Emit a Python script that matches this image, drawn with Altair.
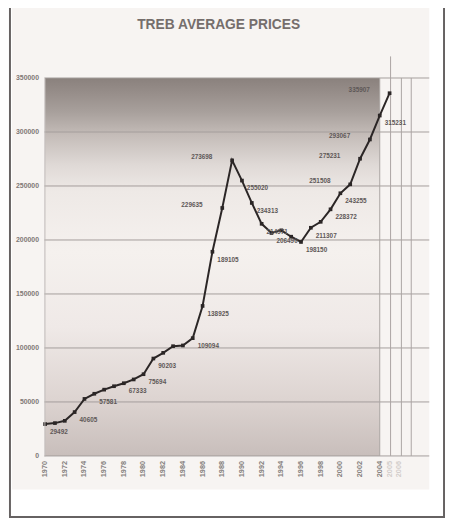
import altair as alt
import pandas as pd

# ---- data ----
years = list(range(1970, 2006))
prices = [29492, 30426, 32513, 40605, 52806, 57581, 61389, 64559, 67333, 70830,
          75694, 90203, 95496, 101626, 102318, 109094, 138925, 189105, 229635, 273698,
          255020, 234313, 214971, 206490, 208921, 203028, 198150, 211307, 216815, 228372,
          243255, 251508, 275231, 293067, 315231, 335907]

right_label_years = [1970, 1973, 1975, 1978, 1980, 1981, 1985, 1986, 1987, 1990,
                     1991, 1992, 1993, 1996, 1997, 1999, 2000, 2004]
left_label_years = [1988, 1989, 2001, 2002, 2003, 2005]

y_ticks = [0, 50000, 100000, 150000, 200000, 250000, 300000, 350000]
x_label_years = list(range(1970, 2005, 2))
x_faint_years = [2005, 2006]
extra_grid_years = [2004, 2005.1, 2006.2, 2007.2]
extra_grid_tops = [350000, 370000, 350000, 350000]

title_text = "TREB AVERAGE PRICES"

# ---- tables ----
df = pd.DataFrame({"year": years, "price": prices})
df["label"] = df["price"].astype(str)
df_r = df[df["year"].isin(right_label_years)]
df_l = df[df["year"].isin(left_label_years)]
grid_df = pd.DataFrame({"v": y_ticks})
vgrid_df = pd.DataFrame({"yr": extra_grid_years, "lo": [0] * 4, "hi": extra_grid_tops})
shade_df = pd.DataFrame({"x0": [1970], "x1": [2004], "y0": [0], "y1": [350000]})
xl_df = pd.DataFrame({"yr": x_label_years, "t": [str(v) for v in x_label_years]})
xf_df = pd.DataFrame({"yr": x_faint_years, "t": [str(v) for v in x_faint_years]})
one = pd.DataFrame({"a": [0]})

xs = alt.Scale(domain=[1969.93, 2009.03], nice=False, zero=False)
ys = alt.Scale(domain=[0, 350000], nice=False)

x_axis = alt.Axis(labels=False, ticks=False, domain=False, grid=False, title=None)
y_axis = alt.Axis(values=y_ticks, format="d", labelFontSize=7, labelFontWeight="bold",
                  labelFont="Liberation Sans", labelColor="#7f7977", labelPadding=6,
                  ticks=False, domain=True, domainColor="#bdb7b5", grid=False,
                  title=None, zindex=1, labelOverlap=False)

page = alt.Chart(one).mark_rect(fill="#f7f4f2", stroke=None).encode(
    x=alt.value(-33), x2=alt.value(391), y=alt.value(-72), y2=alt.value(418))

frame = alt.Chart(one).mark_rect(fill=None, stroke="#666262", strokeWidth=2).encode(
    x=alt.value(-35), x2=alt.value(406), y=alt.value(-74), y2=alt.value(446))

grad = alt.Gradient(
    gradient="linear", x1=0, x2=0, y1=0, y2=1,
    stops=[alt.GradientStop(color="#8a817d", offset=0),
           alt.GradientStop(color="#978e8a", offset=0.04),
           alt.GradientStop(color="#a8a09c", offset=0.09),
           alt.GradientStop(color="#c4bcb8", offset=0.15),
           alt.GradientStop(color="#dfd9d6", offset=0.23),
           alt.GradientStop(color="#eee9e6", offset=0.30),
           alt.GradientStop(color="#f5f1ee", offset=0.46),
           alt.GradientStop(color="#efe9e7", offset=0.66),
           alt.GradientStop(color="#ddd4d1", offset=0.85),
           alt.GradientStop(color="#c8bebb", offset=1)])

shade = alt.Chart(shade_df).mark_rect(fill=grad).encode(
    x=alt.X("x0:Q", scale=xs, axis=x_axis), x2="x1:Q",
    y=alt.Y("y0:Q", scale=ys, axis=y_axis), y2="y1:Q")

hgrid = alt.Chart(grid_df).mark_rule(color="#a39d9b", strokeWidth=1).encode(
    y=alt.Y("v:Q", scale=ys))

vgrid = alt.Chart(vgrid_df).mark_rule(color="#aaa4a2", strokeWidth=1).encode(
    x=alt.X("yr:Q", scale=xs), y=alt.Y("lo:Q", scale=ys), y2="hi:Q")

line = alt.Chart(df).mark_line(color="#2b2626", strokeWidth=2,
                               point=alt.OverlayMarkDef(filled=True, color="#2b2626",
                                                        size=14, shape="square")).encode(
    x=alt.X("year:Q", scale=xs), y=alt.Y("price:Q", scale=ys))

lab_r = alt.Chart(df_r).mark_text(align="left", baseline="middle", dx=5, dy=8,
                                  fontSize=6.5, fontWeight="bold", font="Liberation Sans",
                                  color="#5e5857").encode(
    x=alt.X("year:Q", scale=xs), y=alt.Y("price:Q", scale=ys), text="label:N")

lab_l = alt.Chart(df_l).mark_text(align="right", baseline="middle", dx=-20, dy=-3,
                                  fontSize=6.5, fontWeight="bold", font="Liberation Sans",
                                  color="#5e5857").encode(
    x=alt.X("year:Q", scale=xs), y=alt.Y("price:Q", scale=ys), text="label:N")

xlab = alt.Chart(xl_df).mark_text(angle=270, align="right", baseline="middle",
                                  fontSize=7.5, fontWeight="bold", font="Liberation Sans",
                                  color="#857f7d").encode(
    x=alt.X("yr:Q", scale=xs), y=alt.value(389), text="t:N")

xfaint = alt.Chart(xf_df).mark_text(angle=270, align="right", baseline="middle",
                                    fontSize=7.5, fontWeight="bold", font="Liberation Sans",
                                    color="#d2cdcb").encode(
    x=alt.X("yr:Q", scale=xs), y=alt.value(389), text="t:N")

title = alt.Chart(one).mark_text(text=title_text, fontSize=14, fontWeight="bold",
                                 font="Liberation Sans", color="#756e6c",
                                 align="center", baseline="middle").encode(
    x=alt.value(177), y=alt.value(-54))

chart = alt.layer(page, frame, shade, hgrid, vgrid, line, lab_r, lab_l,
                  xlab, xfaint, title).properties(
    width=391, height=384,
    autosize=alt.AutoSizeParams(type="none"),
    padding={"left": 37, "top": 67, "right": 16, "bottom": 63},
    background="white",
).configure_view(stroke=None).configure_axis(labelOverlap=False)

chart.save("out.html", embed_options={"renderer": "svg", "actions": False})
